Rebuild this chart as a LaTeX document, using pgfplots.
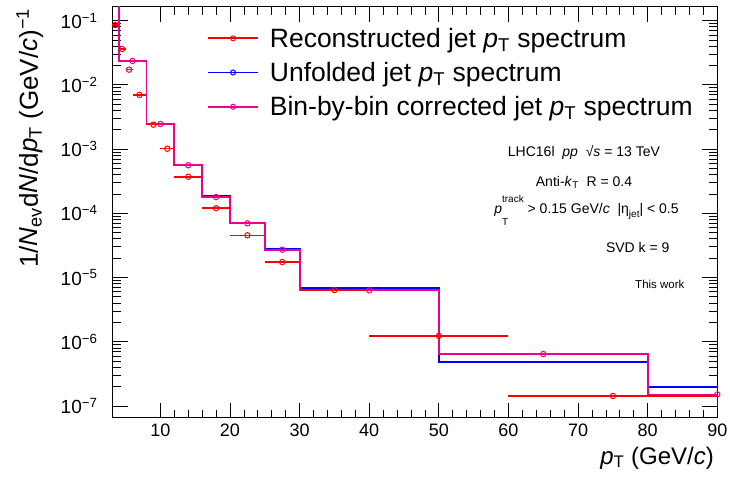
\documentclass[border=0pt]{standalone}
\usepackage{fontspec}
\setmainfont{Liberation Sans}
\usepackage{pgfplots}
\usepackage{pgfplotstable}
\pgfplotsset{compat=1.18}

\pgfplotstableread{
x y
3 0.5
4 0.0238
8 0.00248
12 5.7e-4
16 1.84e-4
20 7.14e-5
25 2.74e-5
30 6.79e-6
50 4.89e-7
80 1.95e-7
100 1.95e-7
}\unfolded

\pgfplotstableread{
x y
3 0.5
4 0.0236
8 0.00246
12 5.6e-4
16 1.79e-4
20 6.98e-5
25 2.71e-5
30 6.3e-6
50 6.43e-7
80 1.51e-7
100 1.51e-7
}\binbybin

\pgfplotstableread{
x y ey
6 0.0236 0
10 0.00246 0
14 5.6e-4 0
18 1.79e-4 0
22.5 6.98e-5 0
27.5 2.71e-5 0
40 6.3e-6 0
65 6.43e-7 0
90 1.51e-7 0.6e-7
}\binbybinpts

\pgfplotstableread{
x y ex
3.5 0.0857 0.5
4.5 0.0362 0.5
5.5 0.01726 0.5
7 0.00697 1
9 0.0024 1
11 0.001014 1
14 3.71e-4 2
18 1.20e-4 2
22.5 4.54e-5 2.5
27.5 1.74e-5 2.5
35 6.38e-6 5
50 1.23e-6 10
75 1.43e-7 15
}\reco

\begin{document}
\begin{tikzpicture}
\begin{axis}[
  scale only axis, width=604.6pt, height=411pt,
  ymode=log,
  xmin=3.15, xmax=90, ymin=6.55e-8, ymax=0.165,
  axis line style={line width=1pt},
  tick align=inside,
  major tick length=15pt, minor tick length=8pt,
  every tick/.style={black, line width=0.8pt},
  xtick={10,20,...,90}, minor x tick num=4,
  ytick={1e-7,1e-6,1e-5,1e-4,1e-3,1e-2,1e-1},
  yticklabels={10\textsuperscript{−7},10\textsuperscript{−6},10\textsuperscript{−5},10\textsuperscript{−4},10\textsuperscript{−3},10\textsuperscript{−2},10\textsuperscript{−1}},
  /pgf/number format/assume math mode=true,
  xticklabel style={font=\fontsize{18}{18}\selectfont, inner sep=0pt, yshift=-6pt},
  yticklabel style={font=\fontsize{19}{19}\selectfont, inner sep=0pt, xshift=-15pt},
  xlabel={\textit{p}\textsubscript{T} (GeV/\textit{c})},
  every axis x label/.style={at={(axis description cs:1,0)}, anchor=base east, yshift=-46.3pt, font=\fontsize{24}{24}\selectfont},
  ylabel={1/\textit{N}\textsubscript{ev}d\textit{N}/d\textit{p}\textsubscript{T} (GeV/\textit{c})\textsuperscript{−1}},
  every axis y label/.style={at={(axis description cs:-0.1236,1.0041)}, rotate=90, anchor=base east, font=\fontsize{26}{26}\selectfont},
  legend style={draw=none, fill=none, at={(axis description cs:0.151,0.9536)}, anchor=north west,
    font=\fontsize{26.5}{26.5}\selectfont, row sep=13.5pt, nodes={inner sep=0pt}},
  legend cell align=left,
  legend image code/.code={\draw[mark repeat=2,mark phase=2,#1] plot coordinates {(0pt,0pt) (25pt,0pt) (50pt,0pt)}; \path (61pt,0pt);},
]
\addlegendimage{red, line width=1.7pt, mark=o, mark size=2.5pt, mark options={line width=1pt}}
\addlegendentry{Reconstructed jet \textit{p}\textsubscript{T} spectrum}
\addlegendimage{blue, line width=1.7pt, mark=o, mark size=2.5pt, mark options={line width=1pt}}
\addlegendentry{Unfolded jet \textit{p}\textsubscript{T} spectrum}
\addlegendimage{magenta, line width=1.7pt, mark=o, mark size=2.5pt, mark options={line width=1pt}}
\addlegendentry{Bin-by-bin corrected jet \textit{p}\textsubscript{T} spectrum}

\addplot[forget plot, const plot, blue, line width=1.8pt] table[x=x,y=y] {\unfolded};
\addplot[forget plot, const plot, magenta, line width=1.8pt] table[x=x,y=y] {\binbybin};
\addplot[forget plot, only marks, magenta, mark=o, mark size=2.7pt, mark options={line width=1pt},
  error bars/.cd, y dir=both, y explicit, error mark=none, error bar style={magenta, line width=1.6pt}]
  table[x=x,y=y,y error=ey] {\binbybinpts};
\addplot[forget plot, only marks, red, mark=o, mark size=2.7pt, mark options={line width=1pt},
  error bars/.cd, x dir=both, x explicit, error mark=none, error bar style={red, line width=1.6pt}]
  table[x=x,y=y,x error=ex] {\reco};

\node[anchor=base, font=\fontsize{14}{14}\selectfont] at (axis description cs:0.7795,0.6367) {LHC16l\ \ \textit{pp}\ \ √\textit{s} = 13 TeV};
\node[anchor=base, font=\fontsize{14}{14}\selectfont] at (axis description cs:0.7795,0.562) {Anti-\textit{k}\textsubscript{T}\ \ R = 0.4};
\node[anchor=base, font=\fontsize{14}{14}\selectfont] at (axis description cs:0.7836,0.4973) {\textit{p}\rlap{\raisebox{-12pt}{\fontsize{10}{10}\selectfont T}}\raisebox{11pt}{\fontsize{10}{10}\selectfont track} > 0.15 GeV/\textit{c}\ \ |η\raisebox{-4pt}{\fontsize{10}{10}\selectfont jet}| < 0.5};
\node[anchor=base east, font=\fontsize{14}{14}\selectfont] at (axis description cs:0.9267,0.4015) {SVD k = 9};
\node[anchor=base east, font=\fontsize{11.5}{11.5}\selectfont] at (axis description cs:0.9515,0.3148) {This work};

\coordinate (SW) at (rel axis cs:0,0);
\end{axis}
\pgfresetboundingbox
\path[use as bounding box] ([shift={(-112.7pt,-62.3pt)}]SW) rectangle ++(730pt,480pt);
\end{tikzpicture}
\end{document}
